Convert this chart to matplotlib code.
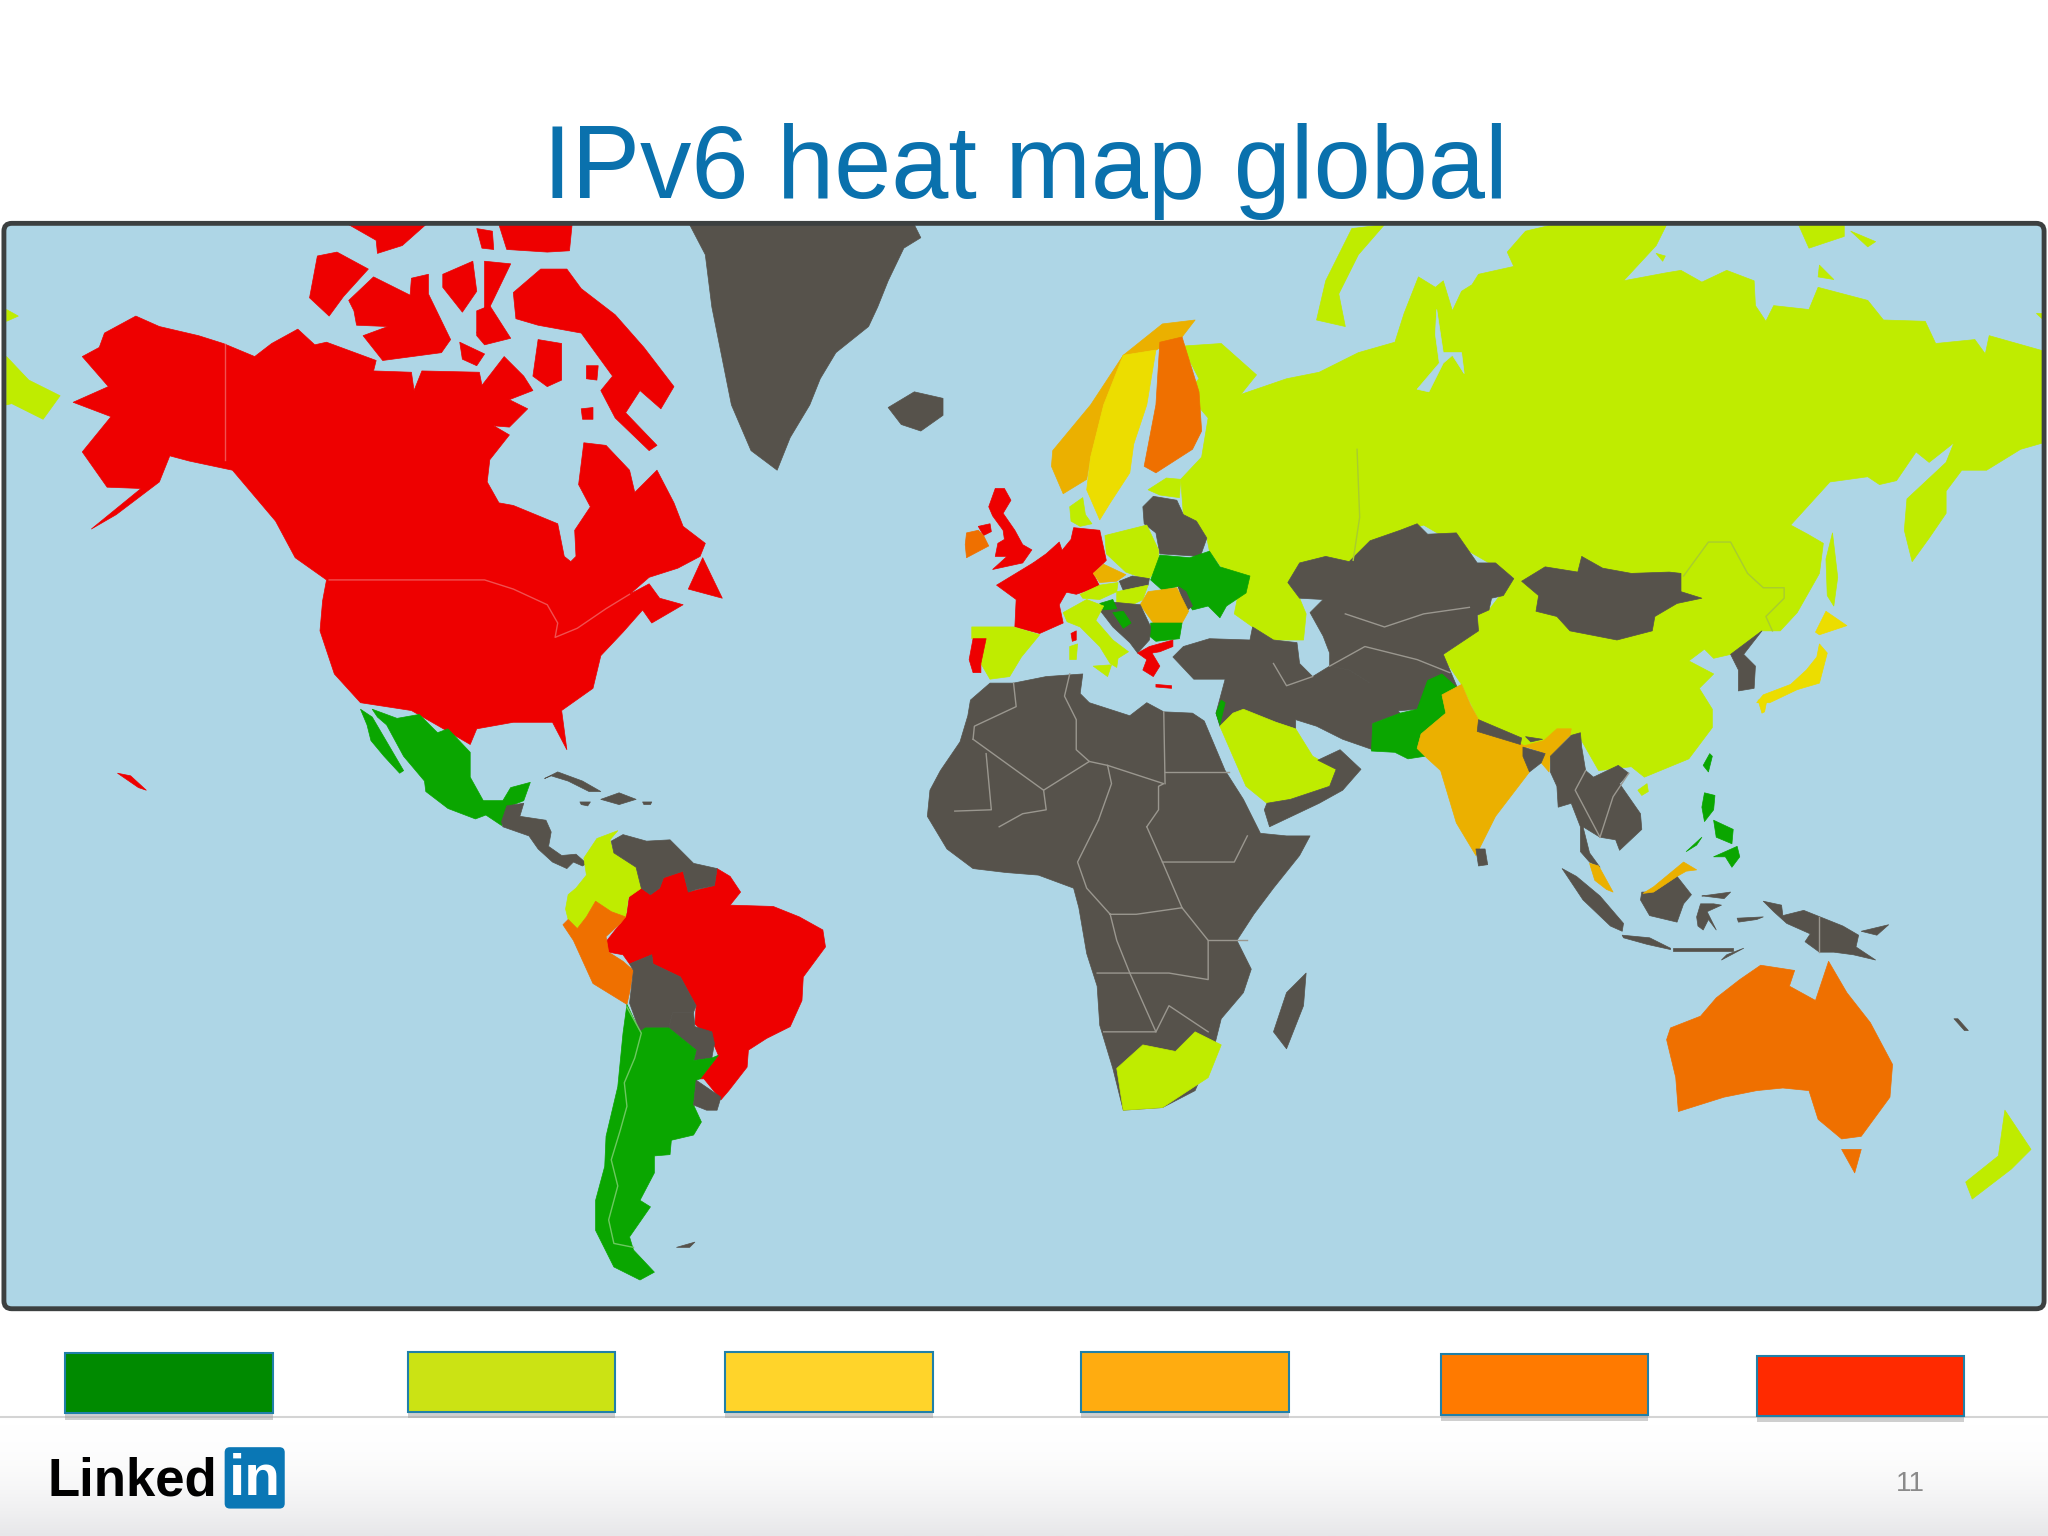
import matplotlib
matplotlib.use("Agg")
import matplotlib.pyplot as plt
from matplotlib.colors import LinearSegmentedColormap
from matplotlib.patches import Polygon, Rectangle, FancyBboxPatch
import numpy as np

plt.rcParams['font.family'] = ['Liberation Sans', 'DejaVu Sans']

LIME = '#bfec00'
RED = '#ee0000'
GREEN = '#0aa600'
GRAY = '#56524b'
ORANGE = '#ef7000'
AMBER = '#ebb000'
YELLOW = '#ecdd00'
OCEAN = '#aed6e6'

# outlines, in picture coordinates (1568 wide)
north_america = [(63,273),(76,266),(80,255),(104,242),(122,250),(152,257),(171,263),(195,273),(208,263),(228,252),(241,264),(250,262),(288,276),(286,284),(315,285),(317,299),(323,284),(367,285),(369,295),(386,273),(401,288),(408,299),(390,306),(404,313),(390,327),(378,326),(390,333),(375,352),(373,369),(382,385),(393,387),(427,401),(432,426),(437,430),(441,426),(440,406),(452,388),(443,371),(447,339),(464,341),(482,360),(486,377),(503,360),(516,385),(523,403),(540,416),(536,426),(519,435),(497,442),(482,455),(497,447),(505,458),(523,463),(499,477),(492,467),(477,484),(460,502),(454,527),(430,544),(434,574),(423,553),(393,553),(365,558),(360,570),(336,556),(315,544),(276,538),(256,516),(245,483),(247,460),(250,444),(226,427),(211,399),(178,360),(145,353),(130,349),(122,369),(89,394),(70,405),(108,374),(82,373),(63,346),(85,319),(56,308),(83,296)]
newfoundland = [(538,427),(553,458),(527,451)]
ellesmere_west = [(267,172),(326,172),(308,188),(289,194),(288,184)]
ellesmere_mid = [(365,175),(377,177),(378,191),(369,190)]
ellesmere_east = [(382,172),(438,172),(436,192),(419,193),(388,191)]
banks = [(243,196),(258,193),(282,206),(263,227),(252,242),(237,228)]
victoria = [(267,230),(286,212),(314,226),(315,213),(328,210),(328,225),(345,260),(338,270),(293,276),(278,257),(297,250),(273,249),(271,238)]
melville = [(339,210),(362,200),(365,223),(354,239),(339,220)]
bathurst = [(371,200),(391,202),(377,231),(365,255),(371,235)]
somerset = [(365,238),(375,234),(391,259),(371,264),(365,257)]
king_william = [(352,262),(371,271),(365,280),(354,275)]
melville_pen = [(412,260),(430,263),(430,291),(419,296),(408,288)]
baffin = [(414,206),(434,206),(445,221),(471,241),(493,266),(516,296),(506,313),(490,299),(479,316),(503,341),(497,345),(471,320),(460,299),(469,288),(445,255),(412,249),(395,244),(393,224)]
southampton = [(449,280),(458,280),(457,291),(449,290)]
coats = [(445,313),(454,312),(454,321),(446,321)]
hawaii = [(90,592),(100,594),(112,605),(106,603)]
greenland = [(528,172),(700,172),(705,182),(692,190),(680,215),(672,235),(665,250),(640,270),(628,290),(620,310),(605,335),(595,360),(575,345),(560,310),(552,270),(545,235),(540,195)]
iceland = [(680,312),(700,300),(722,305),(722,318),(705,330),(690,325)]

russia_china = [(905,265),(935,263),(962,287),(950,302),(985,290),(1010,285),(1040,270),(1068,262),(1075,240),(1086,212),(1099,220),(1105,215),(1112,238),(1119,223),(1127,218),(1132,210),(1159,204),(1154,193),(1168,177),(1189,172),(1276,172),(1268,188),(1243,215),(1275,209),(1287,207),(1303,216),(1322,207),(1343,215),(1344,234),(1352,246),(1358,234),(1385,237),(1392,220),(1430,230),(1442,245),(1474,246),(1482,263),(1512,260),(1520,271),(1523,257),(1562,268),(1568,270),(1568,338),(1547,344),(1521,360),(1502,360),(1490,376),(1490,393),(1477,412),(1464,430),(1458,406),(1460,382),(1490,354),(1496,339),(1477,354),(1467,346),(1452,368),(1439,371),(1430,365),(1401,369),(1371,402),(1384,409),(1396,416),(1393,439),(1376,469),(1363,483),(1349,483),(1325,501),(1312,504),(1305,497),(1293,506),(1312,516),(1301,527),(1311,543),(1311,557),(1293,581),(1259,595),(1249,587),(1224,590),(1208,562),(1167,571),(1132,551),(1119,524),(1104,502),(1131,483),(1132,469),(1140,467),(1159,442),(1090,402),(1049,414),(1033,430),(1015,426),(995,431),(986,446),(995,458),(1000,470),(998,490),(975,490),(959,480),(945,470),(950,445),(935,434),(926,422),(924,412),(916,399),(906,394),(904,367),(920,350),(925,320),(908,300),(918,290)]
gulf_of_ob = [(1100,237),(1105,270),(1119,270),(1121,286),(1112,272),(1105,278),(1094,300),(1085,298),(1102,278),(1099,256)]
novaya_zemlya = [(1060,172),(1035,175),(1015,215),(1008,245),(1030,250),(1025,225),(1040,195)]
siberian_isles = [(1377,172),(1412,172),(1412,181),(1385,190)]
kotelny = [(1417,177),(1436,185),(1430,189)]
wrangel = [(1393,203),(1404,214),(1392,212)]
small_arctic = [(1268,194),(1275,196),(1273,200)]
chukotka_west = [(5,273),(22,291),(46,303),(33,321),(9,309),(5,310)]
chukotka_isle = [(5,237),(14,242),(5,246)]
st_lawrence = [(1559,240),(1568,240),(1568,248)]
sakhalin = [(1403,408),(1407,442),(1404,464),(1399,456),(1398,428)]
hainan = [(1254,605),(1261,600),(1262,606),(1257,609)]

kazakh_stans = [(986,446),(995,431),(1015,426),(1033,430),(1049,414),(1072,406),(1085,401),(1093,409),(1115,408),(1131,431),(1145,431),(1159,443),(1151,456),(1142,458),(1140,467),(1131,471),(1132,483),(1105,501),(1116,527),(1085,543),(1050,546),(1049,523),(1033,513),(1018,510),(1018,500),(1013,487),(1003,469),(1013,459),(995,458)]
middle_east = [(898,503),(906,495),(926,489),(957,490),(959,480),(975,490),(993,492),(995,508),(1005,518),(1018,510),(1033,513),(1049,523),(1072,546),(1051,554),(1051,574),(1028,566),(1008,556),(992,551),(992,558),(977,553),(952,546),(941,554),(934,556),(931,546),(938,520),(914,520)]
saudi = [(934,556),(944,546),(952,543),(977,553),(992,558),(1005,579),(1023,589),(1018,602),(988,612),(970,615),(954,602)]
yemen_oman = [(970,615),(988,612),(1018,602),(1023,589),(1009,582),(1026,574),(1042,589),(1028,605),(1010,615),(972,633),(968,620)]
israel = [(935,536),(938,538),(934,555),(931,546)]
pakistan = [(1085,543),(1093,521),(1104,516),(1116,527),(1104,532),(1107,546),(1088,562),(1085,573),(1091,579),(1078,581),(1068,576),(1050,575),(1051,554),(1072,546)]
india = [(1091,579),(1085,573),(1088,562),(1107,546),(1104,532),(1119,524),(1126,540),(1132,551),(1167,571),(1182,567),(1192,558),(1203,558),(1202,563),(1187,579),(1186,591),(1180,584),(1183,577),(1169,572),(1166,579),(1171,591),(1145,625),(1130,655),(1115,630),(1103,590)]
nepal = [(1132,551),(1165,565),(1164,570),(1131,560)]
bangladesh = [(1166,572),(1183,577),(1180,584),(1171,591),(1166,579)]
bhutan = [(1168,564),(1181,566),(1172,568)]
sri_lanka = [(1130,650),(1137,650),(1139,662),(1132,663)]
mongolia = [(1165,445),(1183,434),(1208,438),(1211,426),(1227,435),(1249,439),(1278,438),(1287,439),(1287,453),(1303,458),(1284,462),(1267,472),(1265,483),(1238,490),(1202,483),(1192,472),(1176,468),(1178,456)]
korea = [(1349,483),(1325,501),(1331,513),(1331,529),(1343,527),(1344,510),(1335,501)]
se_asia = [(1203,563),(1210,561),(1211,572),(1214,590),(1220,595),(1239,586),(1247,592),(1240,600),(1256,623),(1257,635),(1240,651),(1237,643),(1225,641),(1212,633),(1217,653),(1225,664),(1217,660),(1210,652),(1210,633),(1203,615),(1193,618),(1192,602),(1187,591),(1187,579)]
malay = [(1217,661),(1224,663),(1235,683),(1230,681),(1221,674)]
sarawak = [(1258,684),(1266,679),(1289,660),(1299,666),(1291,667),(1284,671),(1266,683)]
borneo = [(1257,683),(1266,683),(1284,671),(1295,685),(1289,692),(1284,706),(1263,701),(1256,689)]
sumatra = [(1196,665),(1207,671),(1225,686),(1243,707),(1242,713),(1233,709),(1212,689)]
java = [(1242,716),(1263,718),(1279,726),(1279,727),(1261,723),(1243,718)]
sundas = [(1281,726),(1327,726),(1327,728),(1281,728)]
timor = [(1318,735),(1335,726),(1322,731)]
sulawesi = [(1302,692),(1312,692),(1318,693),(1307,698),(1314,712),(1308,704),(1304,712),(1300,709),(1299,702)]
sulawesi_arm = [(1303,686),(1325,683),(1320,688),(1304,686)]
ceram = [(1330,703),(1350,702),(1345,704),(1331,706)]
new_guinea = [(1350,690),(1364,693),(1365,701),(1381,697),(1411,709),(1423,716),(1421,725),(1436,735),(1419,731),(1404,729),(1393,729),(1382,721),(1386,715),(1368,707),(1358,698)]
new_britain = [(1425,713),(1446,708),(1437,716)]
new_caledonia = [(1496,780),(1499,780),(1507,789),(1504,789)]
luzon = [(1305,607),(1313,609),(1312,620),(1305,629),(1303,618)]
visayas = [(1312,628),(1327,635),(1326,646),(1314,641)]
mindanao = [(1312,656),(1330,648),(1332,656),(1326,664),(1321,656)]
palawan = [(1291,652),(1303,641),(1299,647)]
taiwan = [(1304,586),(1309,577),(1311,579),(1308,591)]
honshu = [(1393,493),(1399,500),(1393,523),(1376,528),(1355,538),(1345,538),(1350,532),(1371,524),(1383,513),(1391,503)]
kyushu = [(1346,536),(1353,535),(1351,545),(1349,546)]
hokkaido = [(1398,468),(1414,479),(1393,486),(1390,484)]
australia = [(1276,796),(1279,787),(1302,778),(1314,764),(1332,750),(1348,739),(1374,743),(1370,755),(1390,766),(1400,736),(1414,760),(1432,783),(1449,815),(1447,840),(1425,870),(1410,872),(1392,857),(1385,835),(1365,833),(1345,835),(1320,840),(1285,851),(1283,825)]
tasmania = [(1410,880),(1425,880),(1420,898)]
new_zealand = [(1535,850),(1555,880),(1540,895),(1510,918),(1505,905),(1530,885)]

africa = [(710,625),(712,605),(720,590),(735,568),(741,548),(743,536),(758,523),(776,523),(801,518),(829,516),(827,531),(834,538),(865,548),(878,538),(891,545),(913,546),(922,552),(938,590),(952,612),(965,638),(985,640),(1003,640),(995,655),(975,680),(960,700),(947,720),(958,742),(952,760),(935,780),(930,800),(915,835),(890,848),(860,850),(852,818),(842,785),(840,755),(832,730),(826,695),(822,680),(795,670),(770,668),(745,665),(725,650)]
south_africa = [(855,818),(875,800),(900,805),(915,790),(935,800),(925,825),(890,848),(860,850)]
madagascar = [(975,790),(985,760),(1000,745),(998,770),(985,803)]

mexico = [(285,543),(304,550),(321,547),(335,561),(343,558),(360,576),(360,595),(370,613),(385,613),(391,603),(406,599),(401,613),(391,617),(388,625),(384,632),(372,624),(364,627),(343,619),(326,606),(325,598),(309,579),(296,555),(289,549)]
baja = [(276,543),(285,549),(309,590),(306,592),(294,579),(284,567),(281,555)]
central_america = [(388,617),(401,615),(398,625),(418,628),(422,637),(420,648),(430,655),(441,654),(449,661),(446,663),(439,660),(434,665),(423,660),(412,650),(405,640),(385,633),(384,629)]
cuba = [(417,596),(427,591),(446,598),(460,606),(451,606),(435,598),(422,594)]
hispaniola = [(460,612),(474,607),(487,612),(474,616)]
jamaica = [(444,614),(452,614),(450,617),(445,616)]
puerto_rico = [(492,614),(499,614),(498,616),(493,616)]
brazil = [(549,665),(559,671),(567,683),(559,693),(592,694),(612,702),(630,712),(632,725),(615,748),(614,766),(605,786),(587,795),(573,804),(572,817),(558,835),(552,842),(539,826),(536,826),(550,808),(545,796),(532,784),(533,770),(528,761),(521,748),(500,738),(499,731),(482,738),(477,731),(466,729),(464,721),(475,707),(480,699),(482,685),(491,680),(498,685),(505,680),(508,672),(523,667),(527,683),(547,678)]
colombia = [(473,636),(467,643),(470,653),(487,664),(491,680),(481,687),(479,702),(468,698),(456,690),(449,702),(442,711),(435,704),(433,696),(435,685),(441,680),(449,670),(447,657),(457,642)]
venezuela = [(468,644),(477,639),(495,644),(513,643),(531,661),(549,665),(547,678),(533,681),(527,683),(523,667),(508,672),(505,680),(498,685),(491,680),(487,664),(470,653)]
peru = [(456,690),(468,698),(479,702),(475,707),(464,717),(466,729),(477,736),(485,743),(482,760),(480,769),(454,753),(439,720),(431,708),(435,704),(442,711),(449,702)]
bolivia = [(482,738),(499,731),(500,738),(521,748),(528,761),(533,770),(531,775),(515,775),(512,787),(494,787),(490,790),(482,768),(485,743)]
paraguay = [(515,775),(531,775),(532,786),(545,790),(547,799),(545,810),(531,812),(533,804),(512,787)]
chile_argentina = [(480,769),(490,790),(494,787),(512,787),(533,804),(531,812),(545,810),(550,808),(536,826),(533,827),(531,846),(537,859),(531,869),(514,873),(513,884),(501,885),(501,898),(490,919),(498,924),(482,947),(485,957),(501,974),(490,980),(470,970),(456,942),(456,919),(463,893),(464,870),(473,832),(477,791)]
uruguay = [(533,827),(552,840),(549,850),(541,850),(531,846)]
falklands = [(518,955),(532,951),(528,955),(521,955)]

norway = [(805,357),(806,345),(835,310),(860,272),(890,248),(915,245),(905,258),(885,268),(860,272),(845,310),(835,350),(832,367),(814,378)]
sweden = [(860,272),(885,268),(878,310),(868,340),(865,362),(850,385),(842,398),(832,375),(835,350),(845,310)]
finland = [(876,357),(885,310),(888,262),(905,258),(918,300),(920,330),(913,344),(885,362)]
denmark = [(819,388),(829,381),(831,394),(836,401),(827,403),(820,399)]
estonia_latvia = [(879,375),(893,366),(904,367),(903,381),(888,379)]
baltics_belarus = [(875,388),(883,380),(901,383),(906,394),(916,399),(924,412),(919,426),(888,424),(885,408),(876,401)]
france = [(763,448),(791,431),(809,439),(819,449),(811,463),(814,477),(796,485),(777,480),(778,459)]
germany = [(822,404),(842,406),(847,429),(837,439),(842,449),(824,455),(810,452),(809,439),(811,424),(820,413)]
benelux = [(791,431),(801,424),(811,415),(814,424),(809,440)]
britain = [(762,374),(769,374),(774,383),(768,393),(777,406),(783,417),(790,421),(783,431),(760,436),(771,426),(762,426),(764,416),(769,413),(768,406),(760,395),(757,388)]
n_ireland = [(749,403),(758,401),(759,407),(753,410)]
ireland = [(740,408),(749,406),(753,410),(757,418),(740,427),(739,417)]
poland = [(846,410),(878,402),(887,421),(887,434),(879,444),(862,438),(847,424)]
czech = [(837,439),(845,432),(862,440),(855,445),(842,446)]
slovakia = [(857,445),(867,441),(880,443),(879,448),(860,452)]
austria = [(827,455),(842,448),(856,446),(855,453),(842,459),(829,458)]
hungary = [(855,453),(860,452),(879,448),(875,459),(865,464),(855,462)]
ukraine = [(881,444),(888,425),(911,427),(926,422),(934,434),(957,441),(954,454),(939,464),(934,473),(925,464),(913,467),(902,449),(890,452)]
moldova = [(902,449),(908,453),(913,464),(908,468)]
romania = [(873,463),(879,453),(901,450),(910,468),(905,477),(883,477)]
bulgaria = [(881,477),(905,477),(903,489),(885,491),(880,487)]
croatia = [(842,462),(852,459),(855,466),(845,467)]
balkans = [(842,467),(852,461),(873,463),(881,480),(880,490),(871,500),(865,492),(852,480)]
bosnia = [(852,469),(860,468),(866,477),(860,481)]
greece = [(871,500),(880,495),(898,490),(898,495),(888,499),(882,500),(888,510),(883,518),(875,513),(878,505)]
crete = [(885,524),(897,525),(897,527),(885,526)]
italy = [(814,469),(832,459),(845,464),(839,475),(852,490),(864,499),(856,504),(855,511),(850,508),(842,495),(827,480),(817,476)]
sicily = [(837,510),(851,509),(848,518)]
sardinia = [(819,495),(825,493),(824,505),(819,505)]
corsica = [(820,485),(824,483),(824,490),(821,491)]
spain = [(744,480),(776,480),(796,486),(782,503),(773,518),(758,520),(751,508),(754,490),(744,489)]
portugal = [(745,489),(755,489),(751,508),(751,515),(745,515),(742,505)]

land_shapes = [
    (north_america, RED), (newfoundland, RED), (ellesmere_west, RED), (ellesmere_mid, RED), (ellesmere_east, RED),
    (banks, RED), (victoria, RED), (melville, RED), (bathurst, RED), (somerset, RED), (king_william, RED),
    (melville_pen, RED), (baffin, RED), (southampton, RED), (coats, RED), (hawaii, RED),
    (greenland, GRAY), (iceland, GRAY), (africa, GRAY), (south_africa, LIME), (madagascar, GRAY),
    (russia_china, LIME), (gulf_of_ob, OCEAN), (novaya_zemlya, LIME), (siberian_isles, LIME), (kotelny, LIME),
    (wrangel, LIME), (small_arctic, LIME), (chukotka_west, LIME), (chukotka_isle, LIME), (st_lawrence, LIME),
    (sakhalin, LIME), (hainan, LIME),
    (kazakh_stans, GRAY), (middle_east, GRAY), (saudi, LIME), (yemen_oman, GRAY), (israel, GREEN),
    (pakistan, GREEN), (india, AMBER), (nepal, GRAY), (bangladesh, GRAY), (bhutan, GRAY), (sri_lanka, GRAY),
    (mongolia, GRAY), (korea, GRAY), (se_asia, GRAY), (malay, AMBER), (borneo, GRAY), (sarawak, AMBER),
    (sumatra, GRAY), (java, GRAY), (sundas, GRAY), (timor, GRAY), (sulawesi, GRAY), (sulawesi_arm, GRAY),
    (ceram, GRAY), (new_guinea, GRAY), (new_britain, GRAY), (new_caledonia, GRAY),
    (luzon, GREEN), (visayas, GREEN), (mindanao, GREEN), (palawan, GREEN), (taiwan, GREEN),
    (honshu, YELLOW), (kyushu, YELLOW), (hokkaido, YELLOW),
    (australia, ORANGE), (tasmania, ORANGE), (new_zealand, LIME),
    (mexico, GREEN), (baja, GREEN), (central_america, GRAY), (cuba, GRAY), (hispaniola, GRAY), (jamaica, GRAY),
    (puerto_rico, GRAY), (brazil, RED), (colombia, LIME), (venezuela, GRAY), (peru, ORANGE), (bolivia, GRAY),
    (paraguay, GRAY), (chile_argentina, GREEN), (uruguay, GRAY), (falklands, GRAY),
    (norway, AMBER), (sweden, YELLOW), (finland, ORANGE), (denmark, LIME), (estonia_latvia, LIME),
    (baltics_belarus, GRAY), (france, RED), (germany, RED), (benelux, RED), (britain, RED), (n_ireland, RED),
    (ireland, ORANGE), (poland, LIME), (czech, AMBER), (slovakia, GRAY), (austria, LIME), (hungary, LIME),
    (ukraine, GREEN), (moldova, GRAY), (romania, AMBER), (bulgaria, GREEN), (balkans, GRAY), (croatia, GREEN),
    (bosnia, GREEN), (greece, RED), (crete, RED), (italy, LIME), (sicily, LIME), (sardinia, LIME), (corsica, RED),
    (spain, LIME), (portugal, RED),
]

# thin borders inside land masses
border_lines = [
    ([(172,263),(172,352)], '#f05050'),
    ([(252,444),(371,444),(393,451),(419,463),(427,477),(425,488),(442,481),(464,466),(482,455)], '#f05050'),
    ([(1039,344),(1041,396),(1036,429)], '#a8cc30'),
    ([(1289,441),(1308,415),(1325,415),(1338,439),(1350,450),(1366,450),(1366,458),(1352,472),(1357,483)], '#a8cc30'),
    ([(480,771),(491,791),(486,810),(478,829),(480,847),(475,865),(468,888),(473,908),(466,934),(470,952),(485,955)], '#6cc860'),
    ([(776,523),(778,541),(746,556),(745,566)], '#9a978f'),
    ([(745,566),(799,605),(834,583),(824,574),(824,551),(815,533),(819,516)], '#9a978f'),
    ([(891,545),(892,600)], '#9a978f'),
    ([(892,591),(941,591)], '#9a978f'),
    ([(834,583),(848,586),(891,600),(887,602),(887,620),(878,633)], '#9a978f'),
    ([(848,586),(851,600),(841,628)], '#9a978f'),
    ([(755,577),(759,620),(731,621)], '#9a978f'),
    ([(799,605),(801,620),(783,623),(765,633)], '#9a978f'),
    ([(850,700),(870,700),(905,695),(925,720),(925,750),(895,745),(865,745),(855,720),(850,700)], '#9a978f'),
    ([(878,633),(890,660),(905,695)], '#9a978f'),
    ([(890,660),(945,660),(955,640)], '#9a978f'),
    ([(841,628),(825,660),(832,680),(850,700)], '#9a978f'),
    ([(840,745),(865,745),(885,790),(845,790)], '#9a978f'),
    ([(885,790),(895,770),(925,790)], '#9a978f'),
    ([(925,720),(955,720)], '#9a978f'),
    ([(1030,470),(1060,480),(1090,470),(1125,465)], '#9a978f'),
    ([(1018,510),(1045,495),(1085,505),(1110,515)], '#9a978f'),
    ([(975,508),(985,525),(1005,518)], '#9a978f'),
    ([(1225,641),(1235,610),(1247,592)], '#9a978f'),
    ([(1214,590),(1206,605),(1225,641)], '#9a978f'),
    ([(1393,702),(1393,729)], '#9a978f'),
]

title_text = 'IPv6 heat map global'
page_number = '11'
legend_colors = ['#008a00', '#cbe314', '#ffd42a', '#ffac10', '#ff7a00', '#ff2a00']
legend_left = [50, 312, 555, 828, 1103, 1345]
legend_top = [1036, 1035, 1035, 1035, 1037, 1038]

fig = plt.figure(figsize=(20.48, 15.36), dpi=100)
ax = fig.add_axes([0, 0, 1, 1])

# footer band
footer = np.linspace(0, 1, 100).reshape(-1, 1) ** 2
footer_cmap = LinearSegmentedColormap.from_list('footer', ['#ffffff', '#e7e7e9'])
ax.imshow(footer, extent=(0, 1568, 1176, 1085), cmap=footer_cmap, aspect='auto', zorder=0)
ax.set_xlim(0, 1568)
ax.set_ylim(1176, 0)
ax.axis('off')
ax.plot([0, 1568], [1085, 1085], color='#d4d4d4', lw=1.5, zorder=1)

# map panel
panel = FancyBboxPatch((3, 171), 1562, 831, boxstyle='round,pad=0,rounding_size=6', fc=OCEAN, ec='none', zorder=2)
ax.add_patch(panel)
for points, color in land_shapes:
    patch = Polygon(points, closed=True, fc=color, ec=color, lw=0.5, joinstyle='round', zorder=3)
    ax.add_patch(patch)
    patch.set_clip_path(panel)
for points, color in border_lines:
    xs = [p[0] for p in points]
    ys = [p[1] for p in points]
    ax.plot(xs, ys, color=color, lw=1.0, zorder=4)
ax.add_patch(FancyBboxPatch((3, 171), 1562, 831, boxstyle='round,pad=0,rounding_size=6', fc='none', ec='#3c4040', lw=3.5, zorder=5))

ax.text(785, 131, title_text, color='#0a71ad', fontsize=74, ha='center', va='center', zorder=6)

# legend swatches
for color, left, top in zip(legend_colors, legend_left, legend_top):
    ax.add_patch(Rectangle((left, top + 5), 159, 46, fc='#a0a0a0', ec='none', alpha=0.5, zorder=6))
    ax.add_patch(Rectangle((left, top), 159, 46, fc=color, ec='#2080a8', lw=1.5, zorder=7))

# logo and page number
ax.text(36, 1134, 'Linked', color='black', fontsize=38, fontweight='bold', ha='left', va='center', zorder=6)
ax.add_patch(FancyBboxPatch((172, 1108), 46, 47, boxstyle='round,pad=0,rounding_size=4', fc='#0a77b5', ec='none', zorder=6))
ax.text(195, 1133, 'in', color='white', fontsize=42, fontweight='bold', ha='center', va='center', zorder=7)
ax.text(1463, 1136, page_number, color='#8a8a8a', fontsize=20, ha='center', va='center', zorder=6)

fig.savefig('out.png', dpi=100, facecolor='white')
